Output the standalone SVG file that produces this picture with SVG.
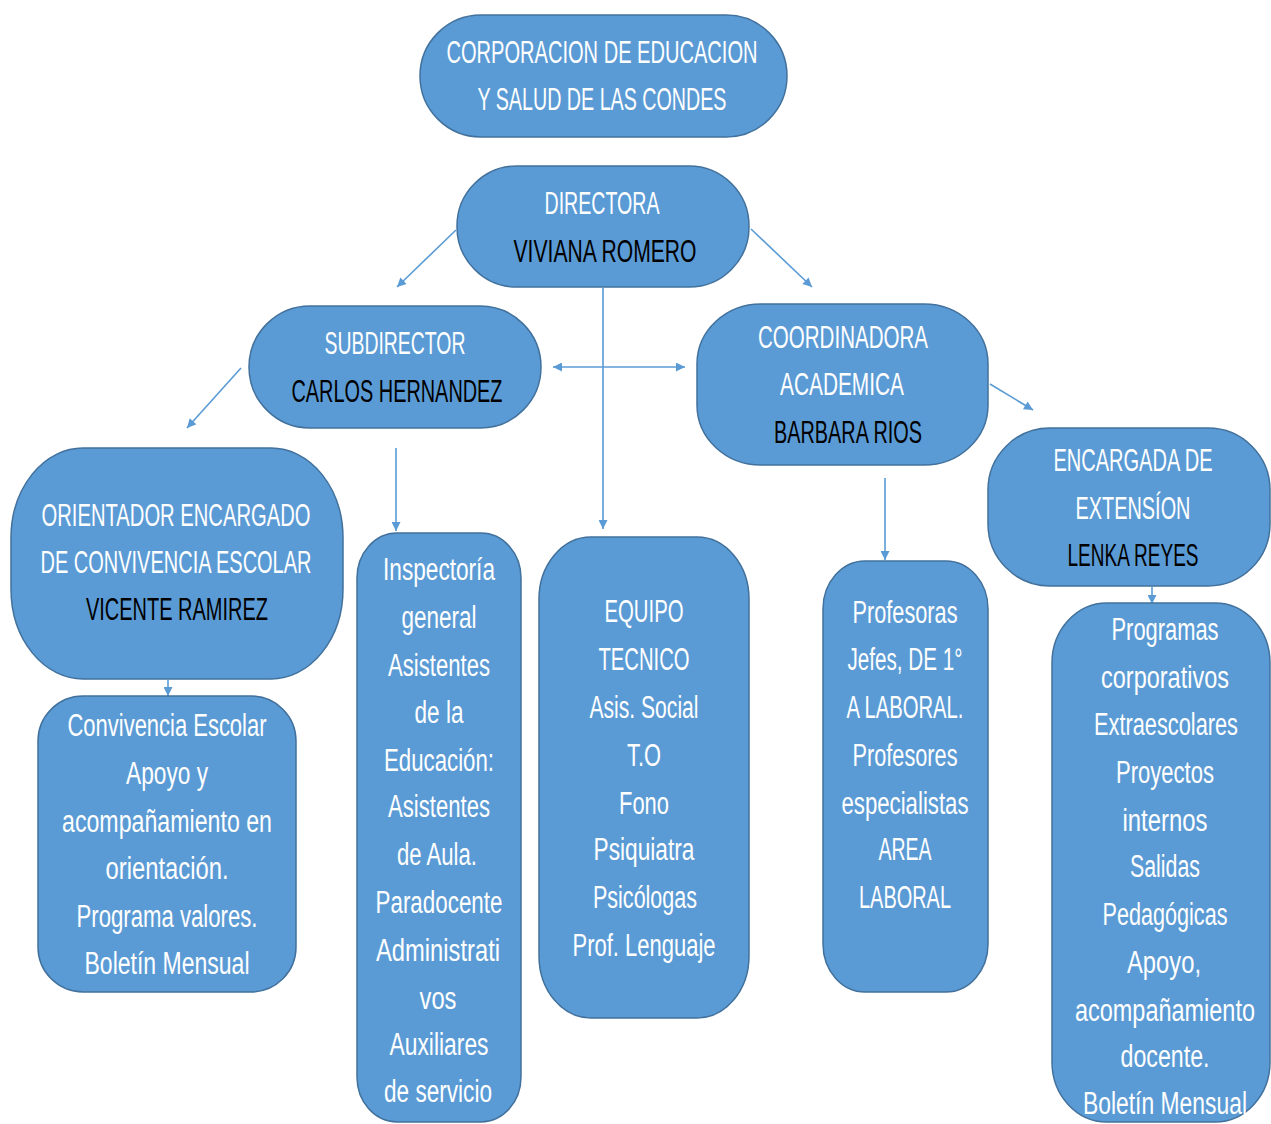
<svg xmlns="http://www.w3.org/2000/svg" width="1271" height="1124" viewBox="0 0 1271 1124">
<defs>
<style>
.box{fill:#5B9BD5;stroke:#41719C;stroke-width:1.5}
text{font-family:"Liberation Sans",Arial,sans-serif;font-size:31px;text-anchor:middle}
.w{fill:#FFFFFF}
.k{fill:#000000}
.c{stroke:#5B9BD5;stroke-width:1.6;fill:none}
</style>
<marker id="ah" viewBox="0 0 10 10" refX="10" refY="5" markerWidth="10" markerHeight="9" markerUnits="userSpaceOnUse" orient="auto-start-reverse">
<path d="M0,0 L10,5 L0,10 Z" fill="#5B9BD5"/>
</marker>
</defs>
<rect width="1271" height="1124" fill="#FFFFFF"/>
<g id="connectors">
<line class="c" x1="456" y1="230" x2="397" y2="287" marker-end="url(#ah)"/>
<line class="c" x1="751" y1="229" x2="812" y2="287" marker-end="url(#ah)"/>
<line class="c" x1="603" y1="288" x2="603" y2="529" marker-end="url(#ah)"/>
<line class="c" x1="553" y1="367" x2="685" y2="367" marker-start="url(#ah)" marker-end="url(#ah)"/>
<line class="c" x1="241" y1="368" x2="187" y2="428" marker-end="url(#ah)"/>
<line class="c" x1="396" y1="448" x2="396" y2="531" marker-end="url(#ah)"/>
<line class="c" x1="885" y1="478" x2="885" y2="560" marker-end="url(#ah)"/>
<line class="c" x1="990" y1="384" x2="1033" y2="410" marker-end="url(#ah)"/>
<line class="c" x1="168" y1="680" x2="168" y2="696" marker-end="url(#ah)"/>
<line class="c" x1="1152" y1="587" x2="1152" y2="604" marker-end="url(#ah)"/>
</g>
<g id="corporacion">
<rect class="box" x="420" y="15" width="367" height="122" rx="61" ry="61"/>
<text class="w" x="602" y="63" textLength="311" lengthAdjust="spacingAndGlyphs">CORPORACION DE EDUCACION</text>
<text class="w" x="602" y="110" textLength="249" lengthAdjust="spacingAndGlyphs">Y SALUD DE LAS CONDES</text>
</g>
<g id="directora">
<rect class="box" x="457" y="166" width="292" height="121" rx="60" ry="60"/>
<text class="w" x="602" y="214" textLength="115" lengthAdjust="spacingAndGlyphs">DIRECTORA</text>
<text class="k" x="605" y="262" textLength="183" lengthAdjust="spacingAndGlyphs">VIVIANA ROMERO</text>
</g>
<g id="subdirector">
<rect class="box" x="249" y="306" width="292" height="122" rx="61" ry="61"/>
<text class="w" x="395" y="354" textLength="141" lengthAdjust="spacingAndGlyphs">SUBDIRECTOR</text>
<text class="k" x="397" y="402" textLength="211" lengthAdjust="spacingAndGlyphs">CARLOS HERNANDEZ</text>
</g>
<g id="coordinadora">
<rect class="box" x="697" y="304" width="291" height="161" rx="64" ry="60"/>
<text class="w" x="843" y="348" textLength="170" lengthAdjust="spacingAndGlyphs">COORDINADORA</text>
<text class="w" x="842" y="395" textLength="124" lengthAdjust="spacingAndGlyphs">ACADEMICA</text>
<text class="k" x="848" y="443" textLength="148" lengthAdjust="spacingAndGlyphs">BARBARA RIOS</text>
</g>
<g id="orientador">
<rect class="box" x="11" y="448" width="332" height="231" rx="72" ry="90"/>
<text class="w" x="176" y="526" textLength="269" lengthAdjust="spacingAndGlyphs">ORIENTADOR ENCARGADO</text>
<text class="w" x="176" y="573" textLength="271" lengthAdjust="spacingAndGlyphs">DE CONVIVENCIA ESCOLAR</text>
<text class="k" x="177" y="620" textLength="182" lengthAdjust="spacingAndGlyphs">VICENTE RAMIREZ</text>
</g>
<g id="encargada">
<rect class="box" x="988" y="428" width="282" height="158" rx="62" ry="62"/>
<text class="w" x="1133" y="471" textLength="159" lengthAdjust="spacingAndGlyphs">ENCARGADA DE</text>
<text class="w" x="1133" y="519" textLength="115" lengthAdjust="spacingAndGlyphs">EXTENSÍON</text>
<text class="k" x="1133" y="566" textLength="131" lengthAdjust="spacingAndGlyphs">LENKA REYES</text>
</g>
<g id="convivencia">
<rect class="box" x="38" y="696" width="258" height="296" rx="45" ry="45"/>
<text class="w" x="167" y="736" textLength="199" lengthAdjust="spacingAndGlyphs">Convivencia Escolar</text>
<text class="w" x="167" y="784" textLength="82" lengthAdjust="spacingAndGlyphs">Apoyo y</text>
<text class="w" x="167" y="832" textLength="210" lengthAdjust="spacingAndGlyphs">acompañamiento en</text>
<text class="w" x="167" y="879" textLength="123" lengthAdjust="spacingAndGlyphs">orientación.</text>
<text class="w" x="167" y="927" textLength="181" lengthAdjust="spacingAndGlyphs">Programa valores.</text>
<text class="w" x="167" y="974" textLength="165" lengthAdjust="spacingAndGlyphs">Boletín Mensual</text>
</g>
<g id="inspectoria">
<rect class="box" x="357" y="533" width="164" height="589" rx="40" ry="45"/>
<text class="w" x="439" y="580" textLength="112" lengthAdjust="spacingAndGlyphs">Inspectoría</text>
<text class="w" x="439" y="628" textLength="75" lengthAdjust="spacingAndGlyphs">general</text>
<text class="w" x="439" y="676" textLength="102" lengthAdjust="spacingAndGlyphs">Asistentes</text>
<text class="w" x="439" y="723" textLength="49" lengthAdjust="spacingAndGlyphs">de la</text>
<text class="w" x="439" y="771" textLength="110" lengthAdjust="spacingAndGlyphs">Educación:</text>
<text class="w" x="439" y="817" textLength="102" lengthAdjust="spacingAndGlyphs">Asistentes</text>
<text class="w" x="437" y="865" textLength="80" lengthAdjust="spacingAndGlyphs">de Aula.</text>
<text class="w" x="439" y="913" textLength="127" lengthAdjust="spacingAndGlyphs">Paradocente</text>
<text class="w" x="438" y="961" textLength="124" lengthAdjust="spacingAndGlyphs">Administrati</text>
<text class="w" x="438" y="1009" textLength="37" lengthAdjust="spacingAndGlyphs">vos</text>
<text class="w" x="439" y="1055" textLength="99" lengthAdjust="spacingAndGlyphs">Auxiliares</text>
<text class="w" x="438" y="1102" textLength="108" lengthAdjust="spacingAndGlyphs">de servicio</text>
</g>
<g id="equipo">
<rect class="box" x="539" y="537" width="210" height="481" rx="52" ry="62"/>
<text class="w" x="644" y="622" textLength="79" lengthAdjust="spacingAndGlyphs">EQUIPO</text>
<text class="w" x="644" y="670" textLength="91" lengthAdjust="spacingAndGlyphs">TECNICO</text>
<text class="w" x="644" y="718" textLength="109" lengthAdjust="spacingAndGlyphs">Asis. Social</text>
<text class="w" x="644" y="766" textLength="34" lengthAdjust="spacingAndGlyphs">T.O</text>
<text class="w" x="644" y="814" textLength="50" lengthAdjust="spacingAndGlyphs">Fono</text>
<text class="w" x="644" y="860" textLength="101" lengthAdjust="spacingAndGlyphs">Psiquiatra</text>
<text class="w" x="645" y="908" textLength="104" lengthAdjust="spacingAndGlyphs">Psicólogas</text>
<text class="w" x="644" y="956" textLength="143" lengthAdjust="spacingAndGlyphs">Prof. Lenguaje</text>
</g>
<g id="profesoras">
<rect class="box" x="823" y="561" width="165" height="431" rx="42" ry="48"/>
<text class="w" x="905" y="623" textLength="105" lengthAdjust="spacingAndGlyphs">Profesoras</text>
<text class="w" x="905" y="670" textLength="115" lengthAdjust="spacingAndGlyphs">Jefes, DE 1°</text>
<text class="w" x="905" y="718" textLength="117" lengthAdjust="spacingAndGlyphs">A LABORAL.</text>
<text class="w" x="905" y="766" textLength="105" lengthAdjust="spacingAndGlyphs">Profesores</text>
<text class="w" x="905" y="814" textLength="127" lengthAdjust="spacingAndGlyphs">especialistas</text>
<text class="w" x="905" y="860" textLength="53" lengthAdjust="spacingAndGlyphs">AREA</text>
<text class="w" x="905" y="908" textLength="92" lengthAdjust="spacingAndGlyphs">LABORAL</text>
</g>
<g id="programas">
<rect class="box" x="1052" y="603" width="218" height="519" rx="55" ry="60"/>
<text class="w" x="1165" y="640" textLength="107" lengthAdjust="spacingAndGlyphs">Programas</text>
<text class="w" x="1165" y="688" textLength="128" lengthAdjust="spacingAndGlyphs">corporativos</text>
<text class="w" x="1166" y="735" textLength="144" lengthAdjust="spacingAndGlyphs">Extraescolares</text>
<text class="w" x="1165" y="783" textLength="98" lengthAdjust="spacingAndGlyphs">Proyectos</text>
<text class="w" x="1165" y="831" textLength="85" lengthAdjust="spacingAndGlyphs">internos</text>
<text class="w" x="1165" y="877" textLength="70" lengthAdjust="spacingAndGlyphs">Salidas</text>
<text class="w" x="1165" y="925" textLength="125" lengthAdjust="spacingAndGlyphs">Pedagógicas</text>
<text class="w" x="1164" y="973" textLength="74" lengthAdjust="spacingAndGlyphs">Apoyo,</text>
<text class="w" x="1165" y="1021" textLength="180" lengthAdjust="spacingAndGlyphs">acompañamiento</text>
<text class="w" x="1165" y="1067" textLength="89" lengthAdjust="spacingAndGlyphs">docente.</text>
<text class="w" x="1165" y="1114" textLength="164" lengthAdjust="spacingAndGlyphs">Boletín Mensual</text>
</g>
</svg>
